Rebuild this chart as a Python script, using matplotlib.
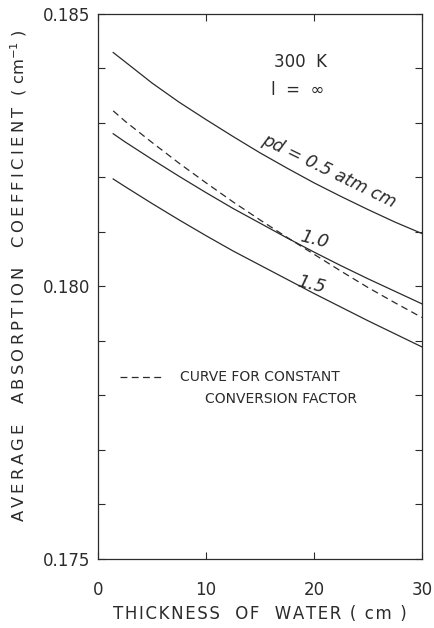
import matplotlib
matplotlib.use('Agg')
import matplotlib.pyplot as plt
from matplotlib.ticker import MultipleLocator, FixedLocator

plt.rcParams['font.family'] = ['DejaVu Sans']

thickness = [1.4, 2.5, 5, 7.5, 10, 12.5, 15, 17.5, 20, 22.5, 25, 27.5, 30]

pd_05 = [0.18429, 0.18412, 0.18373, 0.18338, 0.18306, 0.18275, 0.18245, 0.18217,
         0.18190, 0.18165, 0.18141, 0.18118, 0.18097]
pd_10 = [0.18280, 0.18265, 0.18233, 0.18202, 0.18172, 0.18143, 0.18116, 0.18089,
         0.18063, 0.18038, 0.18014, 0.17991, 0.17968]
pd_15 = [0.18197, 0.18183, 0.18152, 0.18122, 0.18093, 0.18065, 0.18039, 0.18013,
         0.17987, 0.17962, 0.17937, 0.17913, 0.17889]
constant_cf = [0.18322, 0.18303, 0.18264, 0.18226, 0.18190, 0.18155, 0.18122, 0.18090,
               0.18059, 0.18028, 0.17998, 0.17970, 0.17943]

ink = '#2b2b2b'
dash = (0, (5.5, 3.5))


def spaced(s, sep='\u2009'):
    # mimic the wide letter spacing of the drafted lettering
    return sep.join(s)


fig = plt.figure(figsize=(4.34, 6.28), dpi=100)
ax = fig.add_axes([0.226, 0.110, 0.746, 0.868])

for vals in (pd_05, pd_10, pd_15):
    ax.plot(thickness, vals, color=ink, lw=0.9)
ax.plot(thickness, constant_cf, color=ink, lw=0.9, ls=dash)

ax.set_xlim(0, 30)
ax.set_ylim(0.175, 0.185)
ax.xaxis.set_major_locator(FixedLocator([0, 10, 20, 30]))
ax.yaxis.set_major_locator(FixedLocator([0.175, 0.180, 0.185]))
ax.yaxis.set_minor_locator(MultipleLocator(0.001))
ax.set_yticklabels(['0.175', '0.180', '0.185'])
ax.tick_params(which='both', direction='in', top=True, right=True,
               length=5, width=0.8, color=ink, labelsize=12, labelcolor=ink)
ax.tick_params(axis='x', pad=16)
ax.tick_params(axis='y', pad=6)
for s in ax.spines.values():
    s.set_color(ink)
    s.set_linewidth(0.9)

ax.set_xlabel(spaced('THICKNESS  OF  WATER ( cm )', '\u200a'), fontsize=12,
              color=ink, labelpad=4)
ax.set_ylabel(spaced('AVERAGE  ABSORPTION  COEFFICIENT (') + ' cm$^{-1}$ )',
              fontsize=11.8, color=ink)
ax.yaxis.set_label_coords(-0.212, 0.52)

ax.text(16.3, 0.18412, '300  K', fontsize=12, color=ink, va='center', ha='left')
ax.text(16.0, 0.18361, 'l  =  ∞', fontsize=12, color=ink, va='center', ha='left')
ax.text(21.4, 0.18212, 'pd = 0.5 atm cm', fontsize=12.5, color=ink, style='italic',
        rotation=-26, ha='center', va='center', rotation_mode='anchor')
ax.text(20.0, 0.18085, '1.0', fontsize=13, color=ink, style='italic',
        rotation=-14, ha='center', va='center')
ax.text(19.8, 0.18003, '1.5', fontsize=13, color=ink, style='italic',
        rotation=-14, ha='center', va='center')

ax.plot([2.0, 6.2], [0.17834, 0.17834], color=ink, lw=0.9, ls=dash)
ax.text(7.6, 0.17834, 'CURVE FOR CONSTANT', fontsize=10, color=ink, va='center')
ax.text(9.9, 0.17794, 'CONVERSION FACTOR', fontsize=10, color=ink, va='center')

fig.savefig('out.png', dpi=100, facecolor='white')
